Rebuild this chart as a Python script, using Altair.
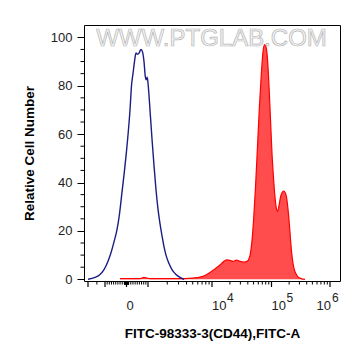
import math
import altair as alt
import pandas as pd

# ---- data (x in biexponential display channels 0..1024) ----
blue_ch = [16, 44, 64, 80, 96, 108, 120, 132, 142, 152, 162, 170, 178, 184, 190, 196,
           202, 208, 214, 220, 228, 234, 240, 245, 249, 253, 257, 264, 272, 280, 288,
           296, 304, 312, 320, 328, 340, 352, 368, 384, 400]
blue_y = [0, 0.8, 2, 4, 7.5, 11, 15.5, 20.5, 27, 36, 45, 53, 62, 70, 80, 85,
          90, 93.5, 93, 93.5, 95, 94, 90, 84, 82.5, 83.5, 80, 70, 58, 47, 37,
          29, 23, 18, 13.5, 10, 6.5, 4, 2, 0.8, 0]

red_ch = [144, 224, 240, 252, 264, 404, 436, 464, 484, 504, 524, 544, 560, 572, 584,
          596, 610, 624, 640, 652, 662, 670, 678, 686, 694, 702, 710, 716, 722, 728,
          734, 740, 746, 752, 758, 764, 770, 774, 780, 786, 792, 798, 804, 810, 816,
          822, 828, 834, 840, 848, 856, 868, 884]
red_y = [0.3, 0.3, 0.8, 0.5, 0.3, 0.3, 0.5, 0.9, 1.6, 2.8, 4.3, 5.9, 7.5, 8, 7.8,
         7.4, 7.9, 7.4, 7.1, 7.4, 9, 14, 24, 38, 55, 72, 86, 94, 97, 96,
         91, 80, 66, 52, 42, 34, 29, 28, 30.5, 34, 35.8, 36.5, 36, 34, 29,
         22, 14, 8, 4.5, 2.3, 1, 0.3, 0]

# biexponential axis definition: decade values and their display channels
anchor_val = [-1e4, -1e3, 0, 1e3, 1e4, 1e5, 1e6]
anchor_ch = [16, 84, 170, 256, 512, 750, 984]
label_vals = [0, 1e4, 1e5, 1e6]
label_text = ["0", "10", "10", "10"]
exponents = ["4", "5", "6"]
y_major = list(range(0, 101, 20))
y_minor = [v for v in range(0, 101, 5) if v % 20]
watermark = ["WWW.PTGLAB.COM"]


def to_ch(v):
    if abs(v) <= 1000:
        lo, hi = (170, 256) if v >= 0 else (84, 170)
        return 170 + v * (hi - lo) / 1000.0
    lv = math.log10(abs(v))
    if v > 0:
        xs, ys = [3, 4, 5, 6], [256, 512, 750, 984]
    else:
        xs, ys = [3, 4], [84, 16]
    for i in range(len(xs) - 1):
        if xs[i] <= lv <= xs[i + 1]:
            t = (lv - xs[i]) / (xs[i + 1] - xs[i])
            return ys[i] + t * (ys[i + 1] - ys[i])
    return ys[-1]


minor_vals = [-3000]
minor_vals += [s * k * 100 for s in (-1, 1) for k in range(1, 10)]
minor_vals += [s * k * 10 for s in (-1, 1) for k in range(1, 10)]
for dec in (1e3, 1e4, 1e5):
    minor_vals += [k * dec for k in range(2, 10)]

W, H = 256, 256

blue_df = pd.DataFrame({"ch": blue_ch, "count": blue_y})
red_df = pd.DataFrame({"ch": red_ch, "count": red_y})
major_df = pd.DataFrame({"ch": [to_ch(v) for v in anchor_val]})
minor_df = pd.DataFrame({"ch": [to_ch(v) for v in minor_vals]})
lab_df = pd.DataFrame({"ch": [to_ch(v) for v in label_vals], "t": label_text})
exp_df = pd.DataFrame({"ch": [to_ch(v) for v in label_vals[1:]], "e": exponents})
yminor_df = pd.DataFrame({"v": y_minor})

xscale = alt.Scale(domain=[0, 1024], nice=False, zero=False)
yscale = alt.Scale(domain=[-0.7, 105.1], nice=False, zero=False)

xaxis = alt.Axis(
    title="FITC-98333-3(CD44),FITC-A",
    values=[],
    grid=False, domain=False, ticks=False, labels=False,
    titleFontSize=13.5, titleFontWeight="bold", titleColor="black",
    titleBaseline="middle", titleY=52,
)

yaxis = alt.Axis(
    title="Relative Cell Number",
    values=y_major,
    grid=False, domain=False,
    tickColor="black", tickWidth=1, tickSize=7,
    labelPadding=5, labelFontSize=13, labelColor="#222222",
    titleFontSize=13.5, titleFontWeight="bold", titleColor="black",
    titleBaseline="alphabetic", titleX=-51,
)

red = alt.Chart(red_df).mark_area(
    color="#ff0000", interpolate="monotone", line={"color": "#ff0000", "strokeWidth": 1.2}
).encode(
    x=alt.X("ch:Q", scale=xscale, axis=xaxis),
    y=alt.Y("count:Q", scale=yscale, axis=yaxis, stack=None),
)

blue = alt.Chart(blue_df).mark_line(
    color="#1c1c84", strokeWidth=1.4, interpolate="monotone"
).encode(x="ch:Q", y="count:Q")

xmaj = alt.Chart(major_df).mark_rule(color="black", strokeWidth=1.2).encode(
    x="ch:Q", y=alt.value(H), y2=alt.value(H + 6))
xmin = alt.Chart(minor_df).mark_rule(color="black", strokeWidth=1).encode(
    x="ch:Q", y=alt.value(H), y2=alt.value(H + 3.5))
ymin = alt.Chart(yminor_df).mark_rule(color="black", strokeWidth=1).encode(
    y=alt.Y("v:Q"), x=alt.value(0), x2=alt.value(-3.5))

txt = dict(fontSize=13, font="Liberation Sans", color="#222222", baseline="middle")
lab_a = alt.Chart(lab_df.iloc[:3]).mark_text(align="left", **txt).encode(
    x="ch:Q", y=alt.value(H + 25), text="t:N")
lab_b = alt.Chart(lab_df.iloc[3:]).mark_text(align="right", dx=1, **txt).encode(
    x="ch:Q", y=alt.value(H + 25), text="t:N")

sup = dict(fontSize=12, font="Liberation Sans", color="#222222", align="left", baseline="middle")
sup_a = alt.Chart(exp_df.iloc[:2]).mark_text(dx=15, **sup).encode(
    x="ch:Q", y=alt.value(H + 17), text="e:N")
sup_b = alt.Chart(exp_df.iloc[2:]).mark_text(dx=2, **sup).encode(
    x="ch:Q", y=alt.value(H + 17), text="e:N")

wm = alt.Chart(pd.DataFrame({"t": watermark})).mark_text(
    fontSize=24, font="Liberation Sans", fill="#f4f4f4", stroke="#b5b5b5", strokeWidth=0.7,
    align="center", baseline="middle"
).encode(x=alt.value(W / 2 - 0.5), y=alt.value(13.5), text="t:N")

chart = alt.layer(red, blue, xmaj, xmin, ymin, lab_a, lab_b, sup_a, sup_b, wm).properties(
    width=W, height=H,
    autosize=alt.AutoSizeParams(type="none"),
    padding={"left": 76, "top": 17, "right": 5, "bottom": 65},
).configure(font="Liberation Sans").configure_view(stroke="black", strokeWidth=1)

chart.save("out.html", embed_options={"renderer": "svg", "actions": False})
